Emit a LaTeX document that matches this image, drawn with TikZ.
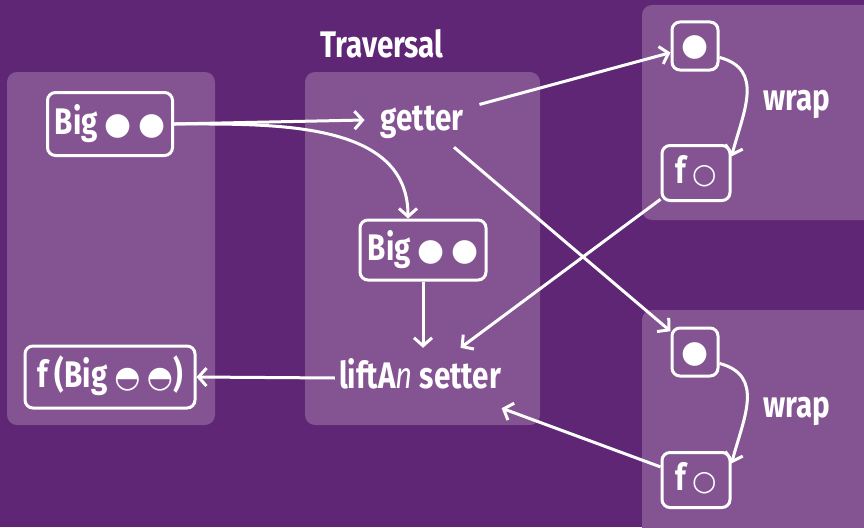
\documentclass[tikz,border=0pt]{standalone}
\usepackage{fontspec}
\setmainfont{Fira Sans}[FakeStretch=0.8]
\newfontfamily\symfont{DejaVu Sans}
\usetikzlibrary{arrows.meta}
\definecolor{bgpurple}{HTML}{5E2674}
\definecolor{panelpurple}{HTML}{845492}
\newcommand{\dotfull}{{\symfont\fontsize{31}{34}\selectfont ●}}
\newcommand{\dotopen}{{\symfont\fontsize{28}{32}\selectfont ○}}
\newcommand{\dothalf}{{\symfont\fontsize{30}{34}\selectfont ◓}}
\tikzset{
  panel/.style={fill=panelpurple, rounded corners=10pt},
  lbl/.style={text=white, font=\bfseries\fontsize{37}{42}\selectfont,
    text height=27pt, text depth=7pt, inner sep=4pt},
  valbox/.style={lbl, draw=white, line width=3pt, rounded corners=8pt},
  link/.style={white, line width=3pt, -{Straight Barb[length=8pt,width=18pt,line width=3pt]}}
}
\begin{document}
\begin{tikzpicture}[x=1pt, y=-1pt]
  % Hintergrund
  \fill[bgpurple] (0,0) rectangle (864,527);
  \useasboundingbox (0,0) rectangle (864,527);
  \fill[panel] (7,72) rectangle (215,425);
  \fill[panel] (305,72) rectangle (540,425);
  \fill[panel] (642,5) rectangle (880,220);
  \fill[panel] (642,310) rectangle (880,540);

  % Knoten
  \node[lbl] (title) at (382,47) {Traversal};
  \node[valbox, minimum width=125pt, minimum height=63pt] (bigA) at (110,124) {Big \dotfull\,\dotfull};
  \node[lbl, inner xsep=16pt, inner ysep=10pt] (getter) at (422,120) {getter};
  \node[valbox, minimum width=126pt, minimum height=60pt] (bigB) at (423,250) {Big \dotfull\,\dotfull};
  \node[lbl, inner xsep=4pt, inner ysep=13pt] (setter) at (420,378) {liftA{\mdseries\itshape n} setter};
  \node[valbox, minimum width=170pt, minimum height=62pt] (fBig) at (110,377) {f (Big \dothalf\,\dothalf)};

  \node[valbox, minimum width=46pt, minimum height=48pt, inner sep=0pt] (dotA) at (695,46) {\dotfull};
  \node[valbox, minimum width=68pt, minimum height=55pt, inner sep=0pt] (fcA) at (696,173) {f\,\dotopen};
  \node[lbl] (wrapA) at (797,100) {wrap};
  \node[valbox, minimum width=46pt, minimum height=48pt, inner sep=0pt] (dotB) at (695,352) {\dotfull};
  \node[valbox, minimum width=68pt, minimum height=55pt, inner sep=0pt] (fcB) at (696,480) {f\,\dotopen};
  \node[lbl] (wrapB) at (797,407) {wrap};

  % Pfeile
  \draw[link] (bigA.east) -- (getter.west);
  \draw[link] (bigA.east) to[out=0, in=90] ([xshift=-15pt]bigB.north);
  \draw[link] (getter) -- (dotA);
  \draw[link] (getter) -- (dotB);
  \draw[link] (bigB.south) -- (bigB.south |- setter.north);
  \draw[link] (fcA) -- (setter);
  \draw[link] (fcB) -- (setter);
  \draw[link] (setter.west) -- (fBig.east);
  \draw[link] (dotA.-25) to[out=-15, in=75, looseness=1.2] (fcA.25);
  \draw[link] (dotB.-25) to[out=-15, in=75, looseness=1.2] (fcB.25);
\end{tikzpicture}
\end{document}
